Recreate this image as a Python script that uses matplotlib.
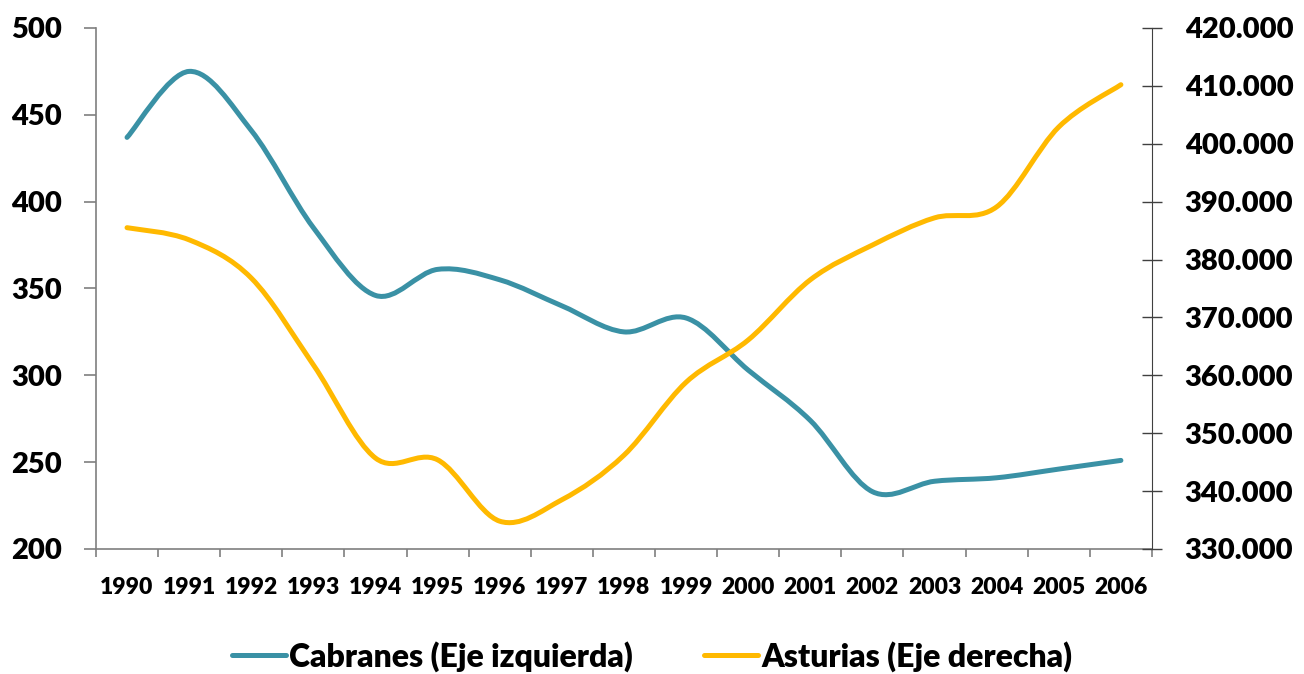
import numpy as np
import matplotlib
matplotlib.use('Agg')
import matplotlib.pyplot as plt
from matplotlib.path import Path
from matplotlib.patches import PathPatch
from matplotlib.lines import Line2D
from matplotlib.ticker import FuncFormatter

years = ['1990', '1991', '1992', '1993', '1994', '1995', '1996', '1997', '1998',
         '1999', '2000', '2001', '2002', '2003', '2004', '2005', '2006']
cabranes = [437, 475, 441, 385, 346, 361, 355, 340, 325, 333, 303, 274, 233, 239, 241, 246, 251]
asturias = [385500, 383400, 376800, 361800, 345700, 345400, 334800, 338500, 346200,
            358800, 366100, 376500, 382500, 387200, 389100, 402900, 410200]

TEAL = '#3A91A5'
GOLD = '#FFB900'

plt.rcParams['font.family'] = ['Lato', 'DejaVu Sans']
plt.rcParams['font.weight'] = 'bold'


def smooth_path(x, y):
    # excel-like smoothed line: catmull-rom segments as cubic beziers
    pts = np.column_stack([x, y]).astype(float)
    n = len(pts)
    verts = [pts[0]]
    codes = [Path.MOVETO]
    for i in range(n - 1):
        p0 = pts[i - 1] if i > 0 else pts[i]
        p1 = pts[i]
        p2 = pts[i + 1]
        p3 = pts[i + 2] if i + 2 < n else pts[i + 1]
        c1 = p1 + (p2 - p0) / 6.0
        c2 = p2 - (p3 - p1) / 6.0
        verts += [c1, c2, p2]
        codes += [Path.CURVE4] * 3
    return Path(verts, codes)


fig = plt.figure(figsize=(13.04, 6.74), dpi=100)
ax = fig.add_axes([0.0736, 0.1855, 0.8098, 0.773])
ax2 = ax.twinx()

xs = np.arange(len(years))
ax.add_patch(PathPatch(smooth_path(xs, cabranes), fill=False, edgecolor=TEAL,
                       lw=3.6, capstyle='round', joinstyle='round'))
ax2.add_patch(PathPatch(smooth_path(xs, asturias), fill=False, edgecolor=GOLD,
                        lw=3.6, capstyle='round', joinstyle='round'))

ax.set_xlim(-0.5, len(years) - 0.5)
ax.set_ylim(200, 500)
ax.set_yticks(np.arange(200, 501, 50))
ax2.set_ylim(330000, 420000)
ax2.set_yticks(np.arange(330000, 420001, 10000))
ax2.yaxis.set_major_formatter(FuncFormatter(lambda v, p: '{:,.0f}'.format(v).replace(',', '.')))

# category axis: ticks between categories, labels at centers
ax.set_xticks(np.arange(-0.5, len(years), 1.0))
ax.set_xticklabels([])
ax.set_xticks(xs, minor=True)
ax.set_xticklabels(years, minor=True)
ax.tick_params(axis='x', which='major', direction='out', length=6, width=1.2, color='#7f7f7f')
ax.tick_params(axis='x', which='minor', length=0, pad=20, labelsize=16.5)

ax.tick_params(axis='y', direction='out', length=8.5, width=1.2, color='#7f7f7f',
               pad=16, labelsize=21)
ax2.tick_params(axis='y', direction='inout', length=15, width=1.0, color='#404040',
                pad=16, labelsize=21)

for lbl in (ax.get_xticklabels(minor=True) + ax.get_yticklabels() + ax2.get_yticklabels()):
    lbl.set_fontweight('heavy')

for a in (ax, ax2):
    a.spines['top'].set_visible(False)
ax.spines['right'].set_visible(False)
ax.spines['left'].set_color('#7f7f7f')
ax.spines['bottom'].set_color('#7f7f7f')
ax.spines['left'].set_linewidth(1.2)
ax.spines['bottom'].set_linewidth(1.2)
ax2.spines['left'].set_visible(False)
ax2.spines['bottom'].set_visible(False)
ax2.spines['right'].set_color('#404040')

handles = [Line2D([], [], color=TEAL, lw=3.6, solid_capstyle='round'),
           Line2D([], [], color=GOLD, lw=3.6, solid_capstyle='round')]
fig.legend(handles, ['Cabranes (Eje izquierda)', 'Asturias (Eje derecha)'],
           loc='center', bbox_to_anchor=(0.5, 0.026), ncol=2, frameon=False,
           prop={'size': 23, 'weight': 'heavy'},
           handlelength=1.7, handletextpad=0.1, columnspacing=2.2)

fig.savefig('out.png', dpi=100)
